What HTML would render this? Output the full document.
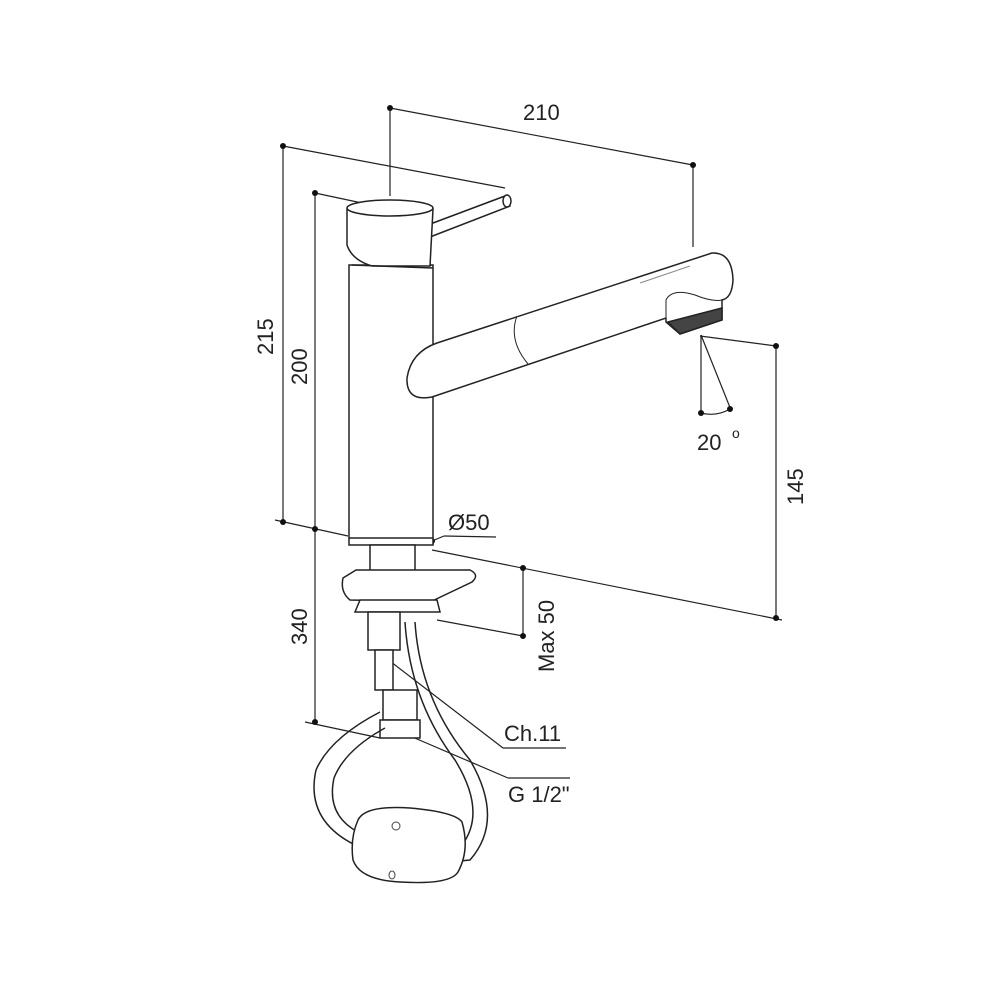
<!DOCTYPE html>
<html><head><meta charset="utf-8"><style>
html,body{margin:0;padding:0;background:#fff}
svg{display:block}
text{font-family:"Liberation Sans",Arial,sans-serif;font-size:22px;fill:#222}
</style></head><body>
<svg width="1000" height="1000" viewBox="0 0 1000 1000" xmlns="http://www.w3.org/2000/svg">
<g stroke="#222" stroke-width="1.2" fill="none">
<line x1="390" y1="108" x2="693" y2="165"/>
<line x1="390" y1="108" x2="390" y2="196"/>
<line x1="693" y1="165" x2="693" y2="247"/>
<line x1="283" y1="146" x2="283" y2="522"/>
<line x1="283" y1="146" x2="505" y2="188"/>
<line x1="315" y1="193" x2="315" y2="722"/>
<line x1="315" y1="193" x2="362" y2="203"/>
<line x1="275" y1="520" x2="348" y2="536"/>
<line x1="305" y1="722" x2="380" y2="738"/>
<line x1="776" y1="346" x2="776" y2="618"/>
<line x1="700" y1="336" x2="776" y2="346"/>
<line x1="432" y1="550" x2="782" y2="620"/>
<line x1="523" y1="567" x2="523" y2="636"/>
<line x1="437" y1="620" x2="523" y2="636"/>
<line x1="432" y1="541" x2="444" y2="536"/>
<line x1="444" y1="536" x2="496" y2="537"/>
<line x1="701" y1="335" x2="701" y2="413"/>
<line x1="701" y1="335" x2="731" y2="410"/>
<path d="M701 413 Q716 417 730 409"/>
<line x1="378" y1="652" x2="503" y2="748"/>
<line x1="503" y1="748" x2="566" y2="748"/>
<line x1="403" y1="733" x2="508" y2="778"/>
<line x1="508" y1="778" x2="570" y2="778"/>
</g>
<g fill="#111">
<circle cx="390" cy="108" r="3"/><circle cx="693" cy="165" r="3"/>
<circle cx="283" cy="146" r="3"/><circle cx="283" cy="522" r="3"/>
<circle cx="315" cy="193" r="3"/><circle cx="315" cy="529" r="3"/><circle cx="315" cy="722" r="3"/>
<circle cx="776" cy="346" r="3"/><circle cx="776" cy="618" r="3"/>
<circle cx="523" cy="568" r="3"/><circle cx="523" cy="636" r="3"/>
<circle cx="432" cy="541" r="3"/>
<circle cx="701" cy="413" r="3"/><circle cx="730" cy="409" r="3"/>
<circle cx="378" cy="652" r="3"/><circle cx="403" cy="732" r="3"/>
</g>
<g stroke="#222" stroke-width="1.5" fill="#fff">
<rect x="349" y="265" width="84" height="280"/>
<line x1="349" y1="538" x2="433" y2="538"/>
<!-- spout -->
<path d="M437 343 L712 253 Q732 252 733 280 Q732 298 722 300 L722 320 L680 334 L666 322 L666 318 L432 397 Q406 402 407 378 Q411 352 437 343 Z"/>
<path d="M517 316 Q508 340 528 364" stroke-width="1"/>
<path d="M666 318 L666 300 Q672 288 695 295 Q712 302 722 300" stroke-width="1"/>
<path d="M668 322 L722 308 L722 320 L680 334 Z" fill="#444"/>
<line x1="640" y1="283" x2="690" y2="266" stroke-width="1" stroke="#888"/>
<path d="M425 226 L505 196 L510 206 L430 237 Z"/>
<ellipse cx="507" cy="201" rx="4" ry="6"/>
<path d="M347 209 L347 245 Q352 260 372 266 L430 266 L433 209 Z"/>
<ellipse cx="390" cy="208" rx="43" ry="8"/>
<line x1="352" y1="265" x2="433" y2="268"/>
<rect x="370" y="545" width="45" height="40"/>
<path d="M343 578 L356 570 L470 570 Q480 575 472 582 L430 602 L350 600 Q340 592 343 578 Z"/>
<path d="M360 600 L437 600 L440 612 L355 612 Z"/>
<rect x="368" y="612" width="32" height="38"/>
<rect x="375" y="650" width="18" height="40"/>
<rect x="383" y="690" width="34" height="30"/>
<rect x="380" y="720" width="40" height="18"/>
</g>
<g stroke="#222" stroke-width="1.5" fill="none">
<path d="M380 712 Q330 738 316 770 Q305 820 355 845"/>
<path d="M385 728 Q345 750 334 778 Q326 815 358 832"/>
<path d="M415 622 Q420 700 470 760 Q505 820 470 860 L450 862"/>
<path d="M405 622 Q410 700 455 760 Q487 812 462 845 L450 848"/>
</g>
<path d="M358 820 Q365 805 410 808 Q455 812 462 822 Q470 850 458 872 Q450 885 400 882 Q360 880 353 860 Q350 838 358 820 Z" fill="#fff" stroke="#222" stroke-width="1.5"/>
<circle cx="396" cy="826" r="4" fill="none" stroke="#444"/>
<ellipse cx="392" cy="875" rx="3" ry="4" fill="none" stroke="#444"/>
<text x="523" y="120">210</text>
<text transform="translate(273,355) rotate(-90)">215</text>
<text transform="translate(307,385) rotate(-90)">200</text>
<text transform="translate(307,645) rotate(-90)">340</text>
<text transform="translate(803,505) rotate(-90)">145</text>
<text transform="translate(554,672) rotate(-90)">Max 50</text>
<text x="448" y="530">Ø50</text>
<text x="697" y="450">20</text><text x="732" y="438" style="font-size:14px">o</text>
<text x="504" y="741">Ch.11</text>
<text x="508" y="802">G 1/2"</text>
</svg>
</body></html>
